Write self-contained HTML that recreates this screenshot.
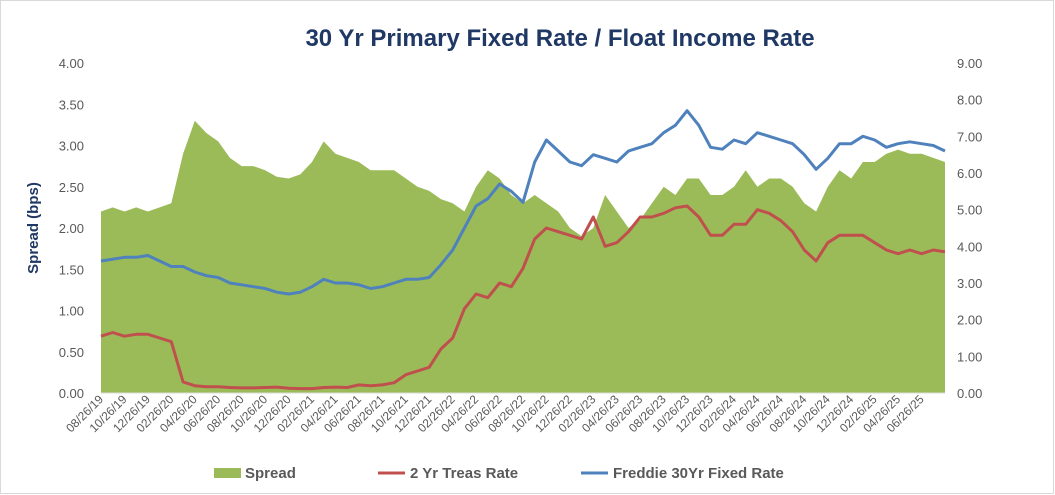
<!DOCTYPE html>
<html><head><meta charset="utf-8"><style>
html,body{margin:0;padding:0;background:#fff}
body{width:1055px;height:495px;overflow:hidden;font-family:"Liberation Sans",sans-serif}
</style></head><body>
<svg id="chart" width="1055" height="495" xmlns="http://www.w3.org/2000/svg" style="position:absolute;left:0;top:0">
<rect x="0.5" y="0.5" width="1053" height="493" fill="#fff" stroke="#d9d9d9"/>
<text x="560" y="46" text-anchor="middle" font-size="24" font-weight="bold" fill="#1f3864">30 Yr Primary Fixed Rate / Float Income Rate</text>
<text transform="translate(38,228) rotate(-90)" text-anchor="middle" font-size="15" font-weight="bold" fill="#1f3864">Spread (bps)</text>
<g id="plot"></g>
<g id="legend">
<rect x="214" y="468" width="27" height="10" fill="#9bbb59"/>
<text x="245" y="478" font-size="15" font-weight="bold" fill="#595959">Spread</text>
<line x1="378" y1="473" x2="405" y2="473" stroke="#c0504d" stroke-width="3"/>
<text x="410" y="478" font-size="15" font-weight="bold" fill="#595959">2 Yr Treas Rate</text>
<line x1="581" y1="473" x2="608" y2="473" stroke="#4f81bd" stroke-width="3"/>
<text x="613" y="478" font-size="15" font-weight="bold" fill="#595959">Freddie 30Yr Fixed Rate</text>
</g>
</svg>
<script>
const months = 73; // Aug 2019 .. Aug 2025 monthly
const spread = [2.2,2.25,2.2,2.25,2.2,2.25,2.3,2.9,3.3,3.15,3.05,2.85,2.75,2.75,2.7,2.62,2.6,2.65,2.8,3.05,2.9,2.85,2.8,2.7,2.7,2.7,2.6,2.5,2.45,2.35,2.3,2.2,2.5,2.7,2.6,2.4,2.3,2.4,2.3,2.2,2.0,1.9,2.0,2.4,2.2,2.0,2.1,2.3,2.5,2.4,2.6,2.6,2.4,2.4,2.5,2.7,2.5,2.6,2.6,2.5,2.3,2.2,2.5,2.7,2.6,2.8,2.8,2.9,2.95,2.9,2.9,2.85,2.8];
const treas2 = [1.55,1.65,1.55,1.6,1.6,1.5,1.4,0.3,0.2,0.17,0.17,0.15,0.14,0.14,0.15,0.16,0.13,0.12,0.12,0.15,0.16,0.15,0.22,0.2,0.22,0.28,0.5,0.6,0.7,1.2,1.5,2.3,2.7,2.6,3.0,2.9,3.4,4.2,4.5,4.4,4.3,4.2,4.8,4.0,4.1,4.4,4.8,4.8,4.9,5.05,5.1,4.8,4.3,4.3,4.6,4.6,5.0,4.9,4.7,4.4,3.9,3.6,4.1,4.3,4.3,4.3,4.1,3.9,3.8,3.9,3.8,3.9,3.85];
const freddie = [3.6,3.65,3.7,3.7,3.75,3.6,3.45,3.45,3.3,3.2,3.15,3.0,2.95,2.9,2.85,2.75,2.7,2.75,2.9,3.1,3.0,3.0,2.95,2.85,2.9,3.0,3.1,3.1,3.15,3.5,3.9,4.5,5.1,5.3,5.7,5.5,5.2,6.3,6.9,6.6,6.3,6.2,6.5,6.4,6.3,6.6,6.7,6.8,7.1,7.3,7.7,7.3,6.7,6.65,6.9,6.8,7.1,7.0,6.9,6.8,6.5,6.1,6.4,6.8,6.8,7.0,6.9,6.7,6.8,6.85,6.8,6.75,6.6];
const leftTicks = ["0.00","0.50","1.00","1.50","2.00","2.50","3.00","3.50","4.00"];
const rightTicks = ["0.00","1.00","2.00","3.00","4.00","5.00","6.00","7.00","8.00","9.00"];
const xLabels = [];
(function(){let m=8,y=19;for(let i=0;i<36;i++){xLabels.push(String(m).padStart(2,'0')+'/26/'+y);m+=2;if(m>12){m-=12;y++;}}})();

const X0=101,X1=945,Y0=393,Y1=63;
const xs=i=>X0+(X1-X0)*i/(months-1);
const yL=v=>Y0-(Y0-Y1)*v/4;
const yR=v=>Y0-(Y0-Y1)*v/9;
const NS="http://www.w3.org/2000/svg";
const g=document.getElementById('plot');
function mk(t,a){const e=document.createElementNS(NS,t);for(const k in a)e.setAttribute(k,a[k]);g.appendChild(e);return e;}

let d='M'+xs(0)+','+Y0;
spread.forEach((v,i)=>{d+=' L'+xs(i).toFixed(1)+','+yL(v).toFixed(1);});
d+=' L'+xs(spread.length-1)+','+Y0+' Z';
const area=mk('path',{d:d,fill:'#9bbb59'});



const ax=mk('line',{x1:X0,y1:Y0,x2:X1,y2:Y0,stroke:'#d9d9d9','stroke-width':1});



function line(arr,color,name){
  const p=arr.map((v,i)=>(i?'L':'M')+xs(i).toFixed(1)+','+yR(v).toFixed(1)).join(' ');
  const e=mk('path',{d:p,fill:'none',stroke:color,'stroke-width':3,'stroke-linejoin':'round'});
  
  
}
line(treas2,'#c0504d','treas-2yr-line');
line(freddie,'#4f81bd','freddie-30yr-line');

leftTicks.forEach((t,i)=>{
  const e=mk('text',{x:84,y:yL(i*0.5)+5,'text-anchor':'end','font-size':13,fill:'#595959'});
  e.textContent=t;
  
  
});
rightTicks.forEach((t,i)=>{
  const e=mk('text',{x:957,y:yR(i)+5,'text-anchor':'start','font-size':13,fill:'#595959'});
  e.textContent=t;
  
  
});
xLabels.forEach((t,i)=>{
  const x=xs(i*2)+3,y=400;
  const e=mk('text',{x:x,y:y,'text-anchor':'end','font-size':12,fill:'#595959',transform:'rotate(-45 '+x+' '+y+')'});
  e.textContent=t;
  
  
});
</script>
</body></html>
